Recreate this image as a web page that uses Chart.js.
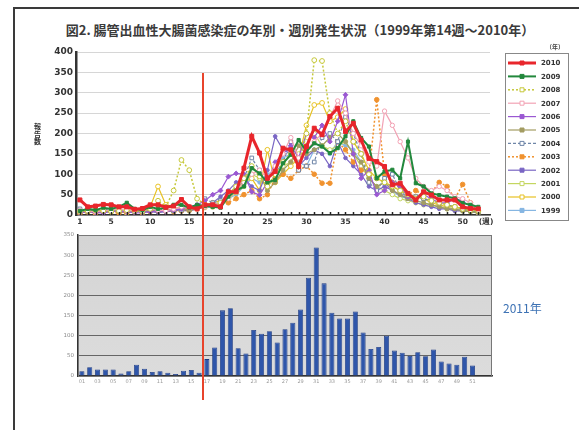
<!DOCTYPE html>
<html>
<head>
<meta charset="utf-8">
<script src="https://cdn.jsdelivr.net/npm/chart.js@4.4.0/dist/chart.umd.min.js"></script>
<style>
  body { margin: 0; width: 579px; height: 430px; background: #fff; position: relative; overflow: hidden;
         font-family: "Noto Sans CJK JP", "Noto Sans", sans-serif; }
  #frame { position: absolute; left: 13px; top: 7px; right: -5px; bottom: -5px;
           border-left: 2px solid #3a3a3a; border-top: 2px solid #3a3a3a; }
  #title { position: absolute; left: 40px; width: 520px; top: 20px; text-align: center;
           font-size: 13px; font-weight: bold; color: #3a3a3a; white-space: nowrap; }
  #ytitle { position: absolute; left: 34px; top: 123px; width: 8px; line-height: 7.5px;
            font-size: 7px; font-weight: bold; color: #333; }
  #note { position: absolute; left: 503px; top: 299px; font-size: 12px; color: #3d72b4; }
  #cut { position: absolute; width: 2px; background: #e8442c; top: 73px; height: 327px; }
  canvas { position: absolute; left: 0; }
</style>
</head>
<body>
<div id="frame"></div>
<div id="title">図2. 腸管出血性大腸菌感染症の年別・週別発生状況（1999年第14週～2010年）</div>
<canvas id="topChart" width="579" height="200" style="top:40px"></canvas>
<canvas id="barChart" width="579" height="180" style="top:225px"></canvas>
<div id="ytitle">報告数</div>
<div id="note">2011年</div>
<div id="cut"></div>
<script>
// ---- data -------------------------------------------------------------
const weekLabels = ['1','','','','5','','','','','10','','','','','15','','','','','20',
  '','','','','25','','','','','30','','','','','35','','','','','40',
  '','','','','45','','','','','50','','','(週)'];
const yTicks = [0, 50, 100, 150, 200, 250, 300, 350, 400];

const years = ['2010','2009','2008','2007','2006','2005','2004','2003','2002','2001','2000','1999'];

const cases2010 = [37,20,22,26,25,20,20,14,16,25, 25,19,22,38,20,15,25,25,20,57,
  57,115,193,152,90,107,164,160,119,168, 213,197,242,262,205,225,184,139,131,119,
  74,78,53,37,57,49,37,37,37,20, 16,15];
const cases2009 = [10,15,12,18,15,20,30,15,12,20, 15,18,25,25,18,25,22,20,18,45,
  60,70,115,102,80,86,127,148,184,156, 176,168,152,164,193,230,189,168,90,107,
  111,90,180,78,70,53,49,45,41,29, 25,20];
const cases2008 = [8,10,12,10,8,10,12,10,8,15, 35,20,60,135,110,40,25,20,30,50,
  70,90,120,95,70,100,130,150,120,200, 380,378,250,200,230,180,150,100,90,80,
  70,60,50,40,45,35,30,25,20,15, 12,10];
const cases2007 = [12,10,8,10,12,15,10,12,10,15, 12,10,15,20,18,15,20,25,30,40,
  60,80,100,110,90,120,150,190,140,160, 180,200,240,280,250,200,170,130,120,255,
  220,180,140,90,70,60,70,60,45,40, 30,15];
const cases2006 = [5,8,6,5,8,10,8,6,5,8, 10,8,12,15,20,25,35,50,60,94,
  102,100,57,49,80,130,150,170,140,200, 190,220,180,230,295,150,90,110,50,60,
  80,70,45,40,50,40,30,30,40,35, 20,10];
const cases2005 = [10,8,12,10,8,10,12,8,10,12, 10,8,12,15,12,18,20,25,30,50,
  70,80,120,100,60,80,110,130,170,150, 160,170,190,200,180,150,130,90,70,80,
  60,50,40,35,30,25,20,15,15,10, 8,5];
const cases2004 = [15,12,10,12,15,10,12,10,8,10, 12,15,10,12,15,20,40,30,35,50,
  60,90,140,110,70,100,130,180,110,120, 130,190,200,180,240,200,150,80,60,90,
  100,60,40,45,40,35,30,25,20,15, 10,8];
const cases2003 = [5,8,5,10,8,5,8,10,5,8, 10,12,8,10,12,15,20,25,30,30,
  40,50,60,40,50,90,100,90,110,120, 100,78,78,180,160,130,110,100,283,100,
  80,70,50,60,50,55,80,70,40,75, 30,10];
const cases2002 = [8,10,8,6,10,8,6,8,10,8, 6,8,10,12,10,15,20,30,45,60,
  80,90,70,60,110,193,160,150,120,140, 160,150,120,180,140,120,100,70,60,70,
  60,50,40,30,25,20,15,15,10,10, 8,5];
const cases2001 = [10,12,10,8,10,12,10,8,10,12, 10,12,15,12,10,15,18,25,30,40,
  55,70,100,90,70,90,120,130,150,180, 200,170,160,170,180,150,120,90,70,60,
  50,40,35,30,25,25,20,15,12,10, 8,5];
const cases2000 = [5,8,5,8,10,8,5,8,10,20, 70,25,15,20,15,20,25,30,35,40,
  60,80,90,60,160,80,100,120,140,220, 270,275,230,240,260,180,150,110,90,80,
  70,60,50,45,40,30,25,20,20,15, 10,8];
const cases1999 = [null,null,null,null,null,null,null,null,null,null, null,null,null,10,12,15,18,20,30,40,
  50,70,90,80,100,110,140,150,130,120, 160,170,150,180,170,160,130,90,70,80,
  60,45,40,35,30,25,20,18,15,12, 10,8];

const seriesValues = [cases2010, cases2009, cases2008, cases2007, cases2006, cases2005,
  cases2004, cases2003, cases2002, cases2001, cases2000, cases1999];

const weekLabels2011 = ['01','','03','','05','','07','','09','','11','','13','','15','','17','','19','',
  '21','','23','','25','','27','','29','','31','','33','','35','','37','','39','',
  '41','','43','','45','','47','','49','','51','',''];
const cases2011 = [12,22,16,16,16,6,12,28,18,10, 12,8,5,13,15,8,42,71,163,168,
  69,56,114,105,111,83,116,132,165,244, 319,230,157,143,143,160,108,67,72,100,
  63,58,50,59,49,66,36,31,28,48, 26];

// ---- styles ------------------------------------------------------------
const STYLES = [
  { color: '#e8262c', width: 3,   dash: [],    point: 'rect',   r: 2.8, fill: true },
  { color: '#22883c', width: 2,   dash: [],    point: 'rect',   r: 2.2, fill: true },
  { color: '#c6c83a', width: 1.5, dash: [2,2], point: 'circle', r: 2.4, fill: false },
  { color: '#f2a2b4', width: 1.2, dash: [],    point: 'circle', r: 2.2, fill: false },
  { color: '#9a58d2', width: 1.2, dash: [],    point: 'rectRot',r: 2.4, fill: true },
  { color: '#a39c62', width: 1.2, dash: [],    point: 'circle', r: 2.0, fill: true },
  { color: '#6f86a8', width: 1.2, dash: [3,2], point: 'rect',   r: 2.6, fill: false },
  { color: '#f0922e', width: 1.5, dash: [2,2], point: 'circle', r: 2.3, fill: true },
  { color: '#7a66c4', width: 1.2, dash: [],    point: 'circle', r: 1.8, fill: true },
  { color: '#c4d660', width: 1.2, dash: [],    point: 'circle', r: 2.2, fill: false },
  { color: '#e8c224', width: 1.2, dash: [],    point: 'circle', r: 2.4, fill: false },
  { color: '#86b6e2', width: 1.2, dash: [],    point: 'circle', r: 1.8, fill: true },
];

const weekTicks = {
  id: 'weekTicks',
  afterDatasetsDraw(chart) {
    const { ctx, scales: { x }, chartArea } = chart;
    ctx.save();
    ctx.strokeStyle = '#222';
    ctx.lineWidth = 1.5;
    for (let i = 0; i < weekLabels.length - 1; i++) {
      const px = Math.round(x.getPixelForValue(i)) + 0.5;
      ctx.beginPath();
      ctx.moveTo(px, chartArea.bottom);
      ctx.lineTo(px, chartArea.bottom - 3);
      ctx.stroke();
    }
    ctx.restore();
  }
};

const yearLegend = {
  id: 'yearLegend',
  afterDraw(chart) {
    const { ctx } = chart;
    const left = 505, top = 13, w = 63, h = 167;
    ctx.save();
    ctx.strokeStyle = '#888';
    ctx.lineWidth = 1;
    ctx.strokeRect(left + 0.5, top + 0.5, w, h);
    ctx.fillStyle = '#444';
    ctx.font = 'bold 6px "Noto Sans CJK JP"';
    ctx.textAlign = 'right';
    ctx.textBaseline = 'middle';
    ctx.fillText('（年）', 564, 7);
    ctx.textAlign = 'left';
    ctx.font = 'bold 7px "DejaVu Sans"';
    chart.data.datasets.forEach((ds, i) => {
      const y = top + 10 + i * 13.4;
      const s = STYLES[i];
      ctx.strokeStyle = s.color;
      ctx.lineWidth = s.width;
      ctx.setLineDash(s.dash);
      ctx.beginPath();
      ctx.moveTo(left + 3, y);
      ctx.lineTo(left + 31, y);
      ctx.stroke();
      ctx.setLineDash([]);
      ctx.lineWidth = 1;
      ctx.fillStyle = s.fill ? s.color : '#fff';
      ctx.beginPath();
      ctx.rect(left + 15, y - 2, 4, 4);
      ctx.fill();
      ctx.stroke();
      ctx.fillStyle = '#333';
      ctx.fillText(ds.label, left + 36, y + 0.5);
    });
    ctx.restore();
  }
};

const topChart = new Chart(document.getElementById('topChart'), {
  type: 'line',
  data: {
    labels: weekLabels,
    datasets: years.map((y, i) => ({
      label: y,
      data: seriesValues[i],
      borderColor: STYLES[i].color,
      borderWidth: STYLES[i].width,
      borderDash: STYLES[i].dash,
      pointStyle: STYLES[i].point,
      pointRadius: STYLES[i].r,
      pointBorderWidth: 1,
      pointBackgroundColor: STYLES[i].fill ? STYLES[i].color : '#fff',
      pointBorderColor: STYLES[i].color,
      tension: 0,
      spanGaps: false,
    })),
  },
  options: {
    responsive: false,
    animation: false,
    layout: { padding: { left: 26, right: 89, top: 12, bottom: 5 } },
    plugins: { legend: { display: false }, tooltip: { enabled: false } },
    scales: {
      x: {
        offset: true,
        grid: { display: false, drawTicks: false },
        border: { color: '#333', width: 1.5 },
        ticks: { autoSkip: false, maxRotation: 0, padding: 3, color: '#333',
                 font: { size: 7.5, weight: 'bold', family: 'DejaVu Sans' } },
        afterFit: (s) => { s.height = 20; },
      },
      y: {
        min: 0, max: 400,
        afterBuildTicks: (s) => { s.ticks = yTicks.map(v => ({ value: v })); },
        grid: { color: '#d6d6d6', drawTicks: false },
        border: { color: '#333', width: 2.5 },
        ticks: { padding: 3, color: '#333', font: { size: 9, weight: 'bold', family: 'DejaVu Sans' } },
        afterFit: (s) => { s.width = 50; },
      },
    },
  },
  plugins: [weekTicks, yearLegend],
});

const plotBackground = {
  id: 'plotBackground',
  beforeDraw(chart) {
    const { ctx, chartArea: a } = chart;
    ctx.save();
    const g = ctx.createLinearGradient(0, a.top, 0, a.bottom);
    g.addColorStop(0, '#d4d4d4');
    g.addColorStop(1, '#dcdcdc');
    ctx.fillStyle = g;
    ctx.fillRect(a.left, a.top, a.right - a.left, a.bottom - a.top);
    ctx.restore();
  },
  afterDraw(chart) {
    const { ctx, chartArea: a } = chart;
    ctx.save();
    ctx.strokeStyle = '#777';
    ctx.lineWidth = 1;
    ctx.strokeRect(a.left + 0.5, a.top + 0.5, a.right - a.left - 1, a.bottom - a.top);
    ctx.restore();
  }
};

const barChart = new Chart(document.getElementById('barChart'), {
  type: 'bar',
  data: {
    labels: weekLabels2011,
    datasets: [{
      label: '2011',
      data: cases2011,
      backgroundColor: '#2f56aa',
      borderColor: '#1c3a82',
      borderWidth: 0.8,
      barPercentage: 0.65,
      categoryPercentage: 1,
    }],
  },
  options: {
    responsive: false,
    animation: false,
    layout: { padding: { left: 48, right: 87, top: 10, bottom: 17 } },
    plugins: { legend: { display: false }, tooltip: { enabled: false } },
    scales: {
      x: {
        grid: { display: false, drawTicks: false },
        border: { color: '#333', width: 1.5 },
        ticks: { autoSkip: false, maxRotation: 0, padding: 3, color: '#9a9a9a',
                 font: { size: 5, family: 'DejaVu Sans' } },
        afterFit: (s) => { s.height = 12; },
      },
      y: {
        min: 0, max: 350,
        ticks: { stepSize: 50, padding: 4, color: '#8a8a8a', font: { size: 5.5, family: 'DejaVu Sans' } },
        grid: { color: '#666', drawTicks: false },
        border: { color: '#333', width: 1.5 },
        afterFit: (s) => { s.width = 30; },
      },
    },
  },
  plugins: [plotBackground],
});

// vertical marker separating the 1999-2010 weeks from 2011 data
const cut = document.getElementById('cut');
cut.style.left = (topChart.scales.x.getPixelForValue(15.7) - 1) + 'px';
</script>
</body>
</html>
